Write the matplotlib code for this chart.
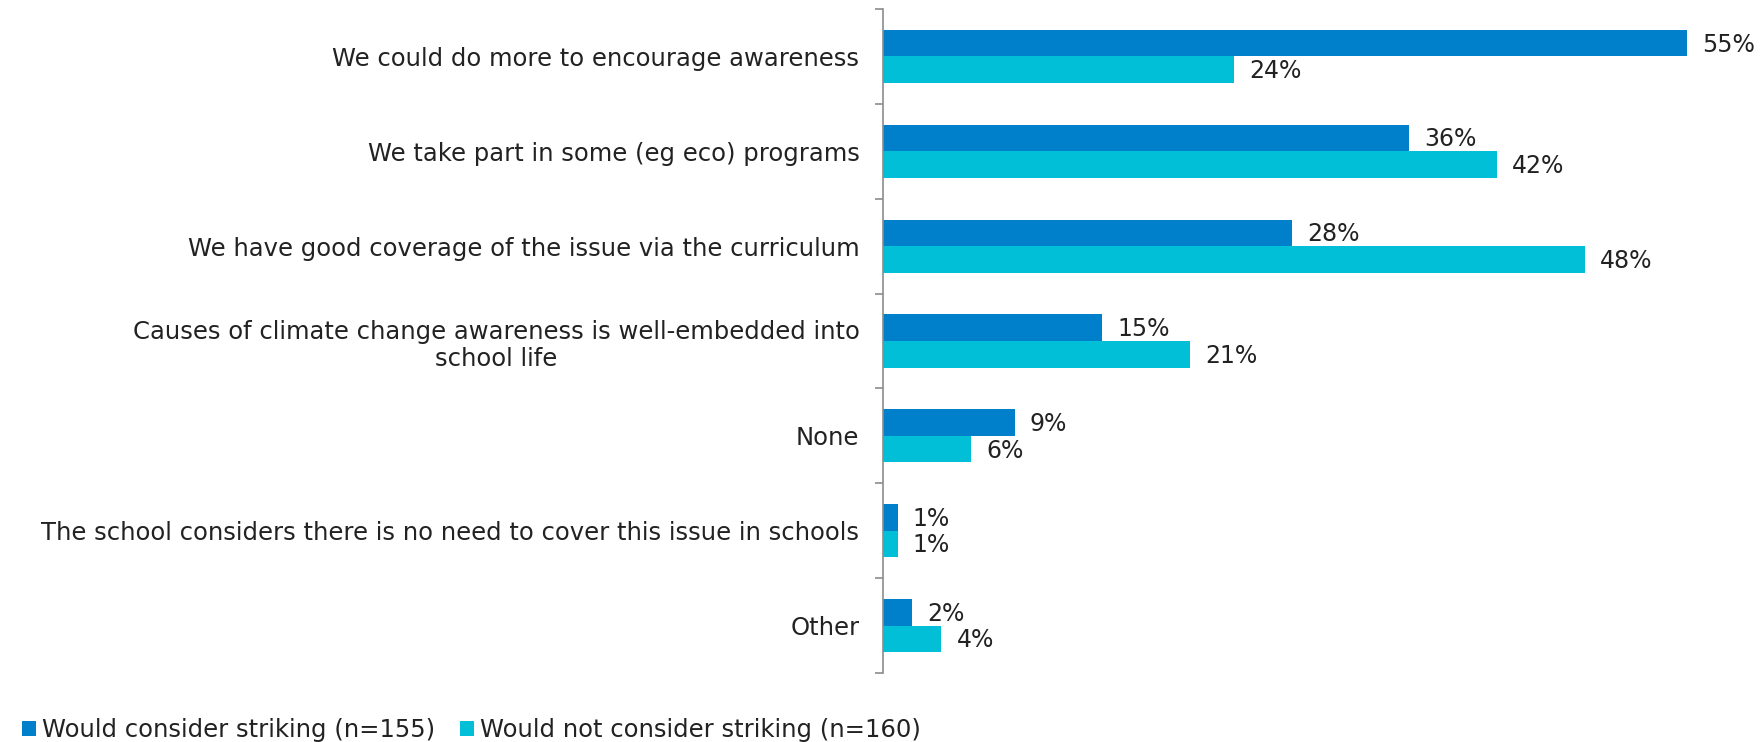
import matplotlib
matplotlib.use("Agg")
import matplotlib.pyplot as plt
import numpy as np

plt.rcParams['font.family'] = ['DejaVu Sans']

categories = [
    "We could do more to encourage awareness",
    "We take part in some (eg eco) programs",
    "We have good coverage of the issue via the curriculum",
    "Causes of climate change awareness is well-embedded into\nschool life",
    "None",
    "The school considers there is no need to cover this issue in schools",
    "Other",
]
would_strike = [55, 36, 28, 15, 9, 1, 2]
would_not_strike = [24, 42, 48, 21, 6, 1, 4]
series_names = ["Would consider striking (n=155)", "Would not consider striking (n=160)"]
colors = ["#0080CB", "#00BFD7"]

W, H = 1764, 742
fig = plt.figure(figsize=(W / 100, H / 100), dpi=100)
ax = fig.add_axes([883 / W, 1 - 673 / H, 877 / W, 664 / H])

y = np.arange(len(categories))
bh = 0.28
fs = 17.5
vfs = 17

b1 = ax.barh(y - bh / 2, would_strike, height=bh, color=colors[0], label=series_names[0])
b2 = ax.barh(y + bh / 2, would_not_strike, height=bh, color=colors[1], label=series_names[1])

for bars, vals in ((b1, would_strike), (b2, would_not_strike)):
    for rect, v in zip(bars, vals):
        ax.annotate(f"{v}%", (rect.get_width(), rect.get_y() + rect.get_height() / 2),
                    xytext=(11, -1), textcoords="offset points", ha="left", va="center",
                    fontsize=vfs, color="#222222", annotation_clip=False)

ax.set_xlim(0, 60)
ax.set_ylim(len(categories) - 0.5, -0.5)
ax.set_yticks(np.arange(len(categories) + 1) - 0.5, minor=False)
ax.set_yticklabels([])
ax.set_yticks(y, minor=True)
ax.set_yticklabels(categories, minor=True, fontsize=fs, color="#222222", multialignment="center")
ax.tick_params(axis="y", which="major", length=6, width=1.2, color="#8c8c8c", direction="out")
ax.tick_params(axis="y", which="minor", length=0, pad=17)
ax.set_xticks([])
for s in ("top", "right", "bottom"):
    ax.spines[s].set_visible(False)
ax.spines["left"].set_color("#8c8c8c")
ax.spines["left"].set_linewidth(1.2)

fig.legend(handles=[b1, b2], labels=series_names, loc="lower left",
           bbox_to_anchor=(12 / W, -10 / H), ncol=2, frameon=False, fontsize=fs,
           handlelength=0.6, handleheight=0.6, handletextpad=0.25, columnspacing=1.0,
           borderaxespad=0, labelcolor="#222222")

fig.savefig("out.png", dpi=100)
